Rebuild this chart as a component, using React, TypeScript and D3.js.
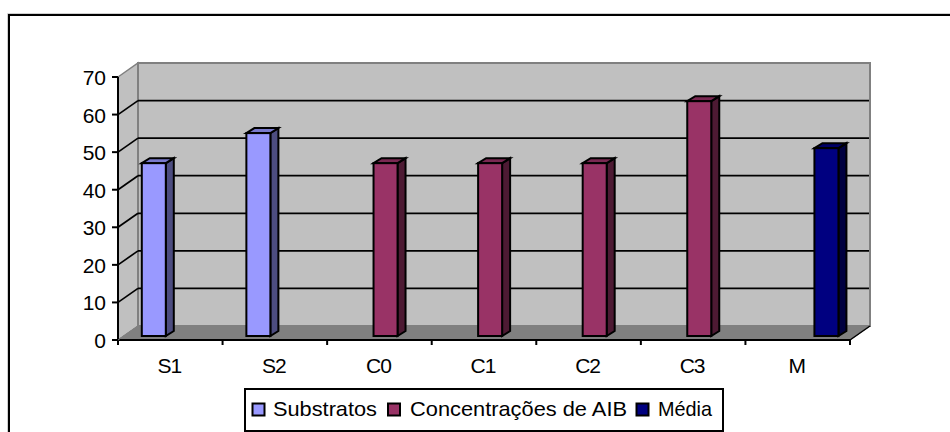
import React from "react";
import * as d3 from "d3";

const categories = ["S1", "S2", "C0", "C1", "C2", "C3", "M"];
const seriesNames = ["Substratos", "Concentrações de AIB", "Média"];
const categorySeries = [0, 0, 1, 1, 1, 1, 2];
const values = [46, 54, 46, 46, 46, 62.5, 50];
const yTicks = [0, 10, 20, 30, 40, 50, 60, 70];
const frontColors = ["#9999FF", "#993366", "#000080"];
const sideColors = ["#4D4D80", "#4D1A33", "#000040"];
const topColors = ["#7A7ACC", "#7A2952", "#000066"];

const W = 950, H = 432;
const FONT = "'Liberation Sans', Arial, sans-serif";
const x0 = 118, x1 = 850, yBase = 340, yTop = 77;
const wallDx = 20, wallDy = -14;
const barW = 24, depthX = 8, depthY = -5;

const x = d3.scaleBand<string>().domain(categories).range([x0, x1]);
const y = d3.scaleLinear().domain([0, 70]).range([yBase, yTop]);
const seriesOffset = d3.scalePoint<number>().domain([0, 1, 2]).range([23.8, 69]);

const pts = (p: number[][]) => p.map((d) => d.join(",")).join(" ");

const legendItems = [
  { sx: 252.5, tx: 273, len: 104 },
  { sx: 388, tx: 410, len: 217 },
  { sx: 636.5, tx: 658, len: 54 },
];

export default function App() {
  return (
    <svg width={W} height={H} style={{ position: "absolute", left: 0, top: 0, background: "#fff" }} fontFamily={FONT}>
      {/* outer frame: open on the right and bottom */}
      <path d={`M950,13.5 H7.5 V432`} fill="none" stroke="#d0d0d0" strokeWidth={1} />
      <path d={`M950,15 H9 V432`} fill="none" stroke="#000" strokeWidth={2} />

      {/* walls */}
      <polygon points={pts([[x0, yTop], [x0 + wallDx, yTop + wallDy], [x0 + wallDx, yBase + wallDy], [x0, yBase]])} fill="#C0C0C0" stroke="#808080" strokeWidth={1.5} />
      <rect x={x0 + wallDx} y={yTop + wallDy} width={x1 - x0} height={yBase - yTop} fill="#C0C0C0" stroke="#808080" strokeWidth={2} />
      <polygon points={pts([[x0, yBase], [x0 + wallDx, yBase + wallDy], [x1 + wallDx, yBase + wallDy], [x1, yBase]])} fill="#808080" stroke="#808080" strokeWidth={1} />

      {/* gridlines */}
      {yTicks.filter((t) => t > 0 && t < 70).map((t) => (
        <g key={t} stroke="#000" strokeWidth={1.7} fill="none">
          <line x1={x0} y1={y(t)} x2={x0 + wallDx} y2={y(t) + wallDy} />
          <line x1={x0 + wallDx} y1={y(t) + wallDy} x2={x1 + wallDx - 1} y2={y(t) + wallDy} />
        </g>
      ))}

      {/* bars */}
      {categories.map((c, i) => {
        const s = categorySeries[i];
        const left = (x(c) as number) + (seriesOffset(s) as number);
        const right = left + barW;
        const top = y(values[i]) - 4;
        const bottom = y(0) - 4;
        return (
          <g key={c} stroke="#000" strokeWidth={2} strokeLinejoin="miter">
            <polygon points={pts([[right, top], [right + depthX, top + depthY], [right + depthX, bottom + depthY], [right, bottom]])} fill={sideColors[s]} />
            <polygon points={pts([[left, top], [left + depthX, top + depthY], [right + depthX, top + depthY], [right, top]])} fill={topColors[s]} />
            <rect x={left} y={top} width={barW} height={bottom - top} fill={frontColors[s]} />
          </g>
        );
      })}

      {/* axes */}
      <g stroke="#000" strokeWidth={2}>
        <line x1={x0} y1={yTop} x2={x0} y2={yBase} />
        <line x1={x0 - 6} y1={yBase} x2={x1} y2={yBase} />
        {yTicks.map((t) => <line key={t} x1={x0 - 6} y1={y(t)} x2={x0} y2={y(t)} />)}
        {[...categories.map((c) => x(c) as number), x1].map((px, i) => (
          <line key={i} x1={px} y1={yBase} x2={px} y2={yBase + 5} />
        ))}
      </g>
      <line x1={x1} y1={yBase} x2={x1 + wallDx} y2={yBase + wallDy} stroke="#000" strokeWidth={1.5} />
      <line x1={x0} y1={yBase} x2={x0 + wallDx} y2={yBase + wallDy} stroke="#808080" strokeWidth={1} />

      {/* tick labels */}
      <g fontSize={21} fill="#000">
        {yTicks.map((t) => (
          <text key={t} x={x0 - 12} y={y(t) + 8} textAnchor="end">{t}</text>
        ))}
        {categories.map((c) => (
          <text key={c} x={(x(c) as number) + x.bandwidth() / 2 - 1} y={373} textAnchor="middle" letterSpacing={-1}>{c}</text>
        ))}
      </g>

      {/* legend */}
      <rect x={245} y={389} width={478} height={42} fill="#fff" stroke="#000" strokeWidth={2} />
      {seriesNames.map((name, i) => (
        <g key={name}>
          <rect x={legendItems[i].sx} y={403.5} width={12} height={12} fill={frontColors[i]} stroke="#000" strokeWidth={2} />
          <text x={legendItems[i].tx} y={416} fontSize={21} fill="#000" textLength={legendItems[i].len} lengthAdjust="spacingAndGlyphs">{name}</text>
        </g>
      ))}
    </svg>
  );
}
